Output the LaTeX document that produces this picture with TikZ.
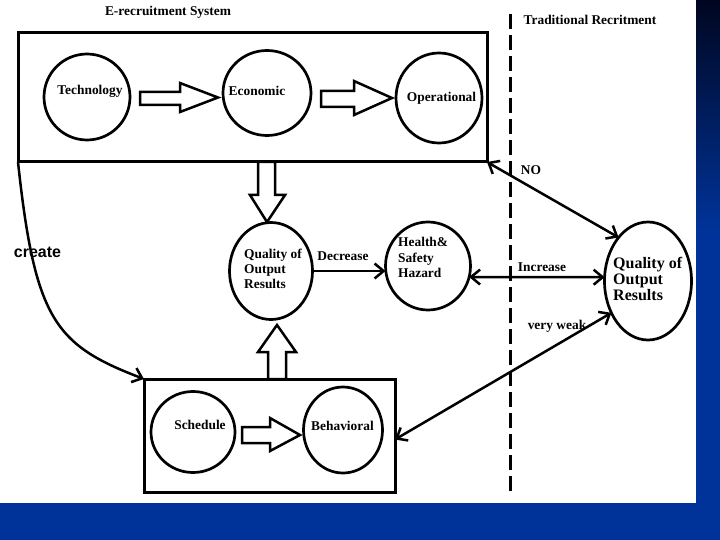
\documentclass[tikz,border=0pt]{standalone}
\usepackage{fontspec}
\setmainfont{Liberation Serif}
\newfontfamily\arialfont{Liberation Sans}
\usetikzlibrary{arrows.meta,shapes.geometric,calc}
\definecolor{bandblue}{RGB}{0,51,153}
\definecolor{banddark}{RGB}{0,6,32}
\begin{document}
\begin{tikzpicture}[x=1pt,y=-1pt,
  >={Straight Barb[length=9pt,width=15pt]},
  ring/.style={draw, ellipse, line width=2.7pt, inner sep=0pt, outer sep=0pt},
  frame/.style={draw, rectangle, line width=3pt, inner sep=0pt, outer sep=0pt},
  lbl/.style={font=\fontsize{13.4}{15}\selectfont\bfseries, inner sep=0pt, align=left},
  biglbl/.style={font=\fontsize{16}{16}\selectfont\bfseries, inner sep=0pt, align=left},
  link/.style={line width=2.5pt},
  blockarrow/.style={draw, fill=white, line width=2.5pt, line join=miter},
  divider/.style={line width=3pt, dash pattern=on 15pt off 6pt}
]
% page and background bands
\useasboundingbox (0,0) rectangle (720,540);
\fill[white] (0,0) rectangle (720,540);
\shade[top color=banddark, bottom color=bandblue] (696,0) rectangle (720,230);
\fill[bandblue] (696,229) rectangle (720,540);
\fill[bandblue] (0,503) rectangle (720,540);

% titles
\node[lbl] (title) at (168,12) {E-recruitment System};
\node[lbl] (tradtitle) at (590,20) {Traditional Recritment};

% divider
\coordinate (dtop) at (510,14);
\coordinate (dbot) at (510,495);
\draw[divider] (dtop) -- (dbot);

% boxes
\node[frame, minimum width=469pt, minimum height=129pt] (tb) at (252.5,97.5) {};
\node[frame, minimum width=251pt, minimum height=113pt] (bb) at (269.5,435.5) {};

% circles
\node[ring, minimum width=86pt, minimum height=86pt] (tech) at (87,97) {};
\node[ring, minimum width=88pt, minimum height=85pt] (econ) at (267,93) {};
\node[ring, minimum width=86pt, minimum height=90pt] (oper) at (439,98) {};
\node[ring, minimum width=83pt, minimum height=97pt] (lq) at (271,271) {};
\node[ring, minimum width=85pt, minimum height=88pt] (hz) at (428,266) {};
\node[ring, minimum width=87pt, minimum height=118pt] (rq) at (648,281) {};
\node[ring, minimum width=84pt, minimum height=81pt] (sch) at (193,432) {};
\node[ring, minimum width=79pt, minimum height=86pt] (beh) at (343,430) {};

% circle texts
\node[lbl] (techt) at (90,91.5) {Technology};
\node[lbl] (econt) at (257,90.5) {Economic};
\node[lbl] (opert) at (441.5,98.5) {Operational};
\node[lbl, anchor=west] (lqt) at (244,269) {Quality of\\Output\\Results};
\node[lbl, anchor=west, font=\fontsize{13.4}{15.5}\selectfont\bfseries] (hzt) at (398,257.5) {Health\&\\Safety\\Hazard};
\node[biglbl, anchor=west] (rqt) at (613,279) {Quality of\\Output\\Results};
\node[lbl] (scht) at (200,425) {Schedule};
\node[lbl] (beht) at (342.5,426) {Behavioral};

% block arrows
\draw[blockarrow] (140,92) -- (180,92) -- (180,83) -- (218,97.5) -- (180,112) -- (180,105) -- (140,105) -- cycle;
\draw[blockarrow] (321,91) -- (354,91) -- (354,81) -- (392,98) -- (354,115) -- (354,107) -- (321,107) -- cycle;
\draw[blockarrow] (258,162) -- (258,195) -- (250,195) -- (267,222) -- (285,195) -- (275,195) -- (275,162) -- cycle;
\draw[blockarrow] (268,379) -- (268,352) -- (258,352) -- (277,325) -- (296,352) -- (286,352) -- (286,379) -- cycle;
\draw[blockarrow] (242,427) -- (270,427) -- (270,418) -- (300,435) -- (270,451) -- (270,443) -- (242,443) -- cycle;

% connectors
\draw[link,->] (lq.east) -- (lq.east -| hz.west);
\draw[link,<->] (hz.-15) -- (rq.175);
\draw[link,<->] (rq.124) -- (tb.south east);
\draw[link,<->] (rq.221) -- ($(bb.east)+(0,4)$);
\draw[link,->] (tb.south west) .. controls (35,320) and (55,345) .. (bb.north west);

% connector labels
\node[lbl] (dec) at (343,256) {Decrease};
\node[lbl] (inc) at (542,267) {Increase};
\node[lbl] (no) at (531,170) {NO};
\node[lbl] (vw) at (557,326) {very weak};
\node[font=\arialfont\bfseries\fontsize{16}{18}\selectfont, inner sep=0pt] (create) at (37.5,252) {create};
\end{tikzpicture}
\end{document}
